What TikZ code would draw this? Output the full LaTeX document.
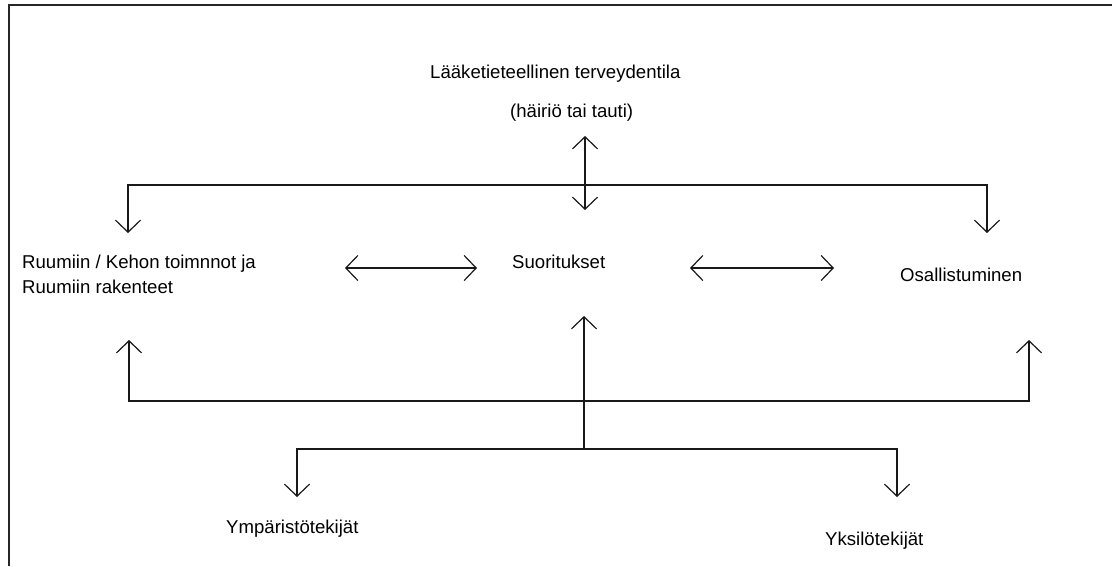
\documentclass[tikz,border=0pt]{standalone}
\usepackage{fontspec}
\setmainfont{Liberation Sans}
\usetikzlibrary{arrows.meta}
\begin{document}
\begin{tikzpicture}[x=1pt,y=-1pt,
  lbl/.style={anchor=base west,inner sep=0pt,font=\fontsize{18.6}{24}\selectfont},
  conn/.style={line width=1.2pt,black!90},
  tip/.style={-{Straight Barb[length=12pt,width=25pt,line width=1.2pt]}},
  tips/.style={{Straight Barb[length=12pt,width=25pt,line width=1.2pt]}-{Straight Barb[length=12pt,width=25pt,line width=1.2pt]}}]
\useasboundingbox (0,0) rectangle (1112,566);
% frame
\draw[line width=2pt,black!85] (9,566) -- (9,5) -- (1112,5);
% labels
\node[lbl] (med) at (430,78) {Lääketieteellinen terveydentila};
\node[lbl] (hairio) at (510,117) {(häiriö tai tauti)};
\node[lbl] (ruum) at (22,268) {Ruumiin / Kehon toimnnot ja};
\node[lbl] (ruum2) at (22,293) {Ruumiin rakenteet};
\node[lbl] (suor) at (512,268) {Suoritukset};
\node[lbl] (osal) at (900,281) {Osallistuminen};
\node[lbl] (ymp) at (226,533) {Ympäristötekijät};
\node[lbl] (yks) at (825,545) {Yksilötekijät};
% coordinates
\coordinate (mtop) at (585,136);
\coordinate (mbot) at (585,210);
\coordinate (hl) at (128,185);
\coordinate (hr) at (987,185);
\coordinate (lt) at (128,233);
\coordinate (rt) at (987,233);
\coordinate (la1) at (345,268);
\coordinate (la2) at (477,268);
\coordinate (ra1) at (690,268);
\coordinate (ra2) at (834,268);
\coordinate (bl) at (129,401);
\coordinate (br) at (1029,401);
\coordinate (blt) at (129,340);
\coordinate (brt) at (1029,340);
\coordinate (mup) at (584,316);
\coordinate (mjoin) at (584,449);
\coordinate (yl) at (297,449);
\coordinate (yr) at (897,449);
\coordinate (ylt) at (297,497);
\coordinate (yrt) at (897,497);
% top distribution
\draw[conn,tips] (mtop) -- (mbot);
\draw[conn,tip] (hr -| mtop) -- (hl) -- (lt);
\draw[conn,tip] (hl -| mtop) -- (hr) -- (rt);
% middle bidirectional
\draw[conn,tips] (la1) -- (la2);
\draw[conn,tips] (ra1) -- (ra2);
% bottom
\draw[conn,tip] (bl -| mup) -- (bl) -- (blt);
\draw[conn,tip] (bl -| mup) -- (br) -- (brt);
\draw[conn,tip] (mjoin) -- (mup);
\draw[conn,tip] (mjoin) -- (yl) -- (ylt);
\draw[conn,tip] (mjoin) -- (yr) -- (yrt);
\end{tikzpicture}
\end{document}
